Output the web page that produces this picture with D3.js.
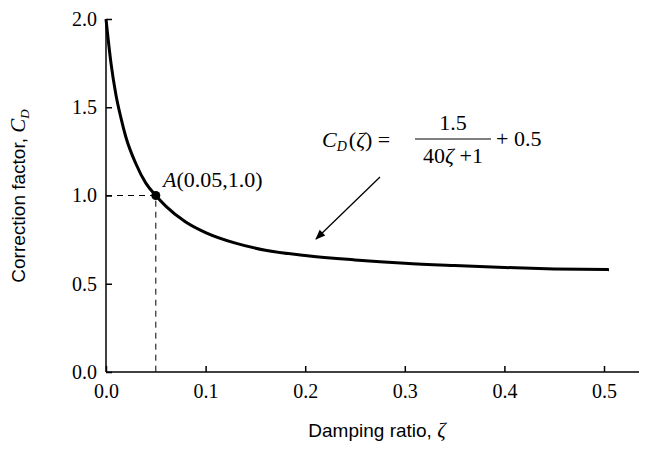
<!DOCTYPE html>
<html><head><meta charset="utf-8">
<script src="https://cdn.jsdelivr.net/npm/d3@7"></script>
<style>body{margin:0;background:#fff}</style>
</head><body>
<svg id="c" width="645" height="457"></svg>
<script>
// curve points (zeta, C_D)
var zeta = [0, 0.005, 0.01, 0.015, 0.02, 0.03, 0.04, 0.05, 0.06, 0.08, 0.1, 0.13, 0.16, 0.2, 0.25, 0.3, 0.35, 0.4, 0.45, 0.505];
var cd   = [2.0, 1.75, 1.57, 1.44, 1.33, 1.18, 1.07, 1.0, 0.94, 0.85, 0.79, 0.73, 0.69, 0.66, 0.635, 0.616, 0.603, 0.592, 0.584, 0.58];
var xTicks = [0, 0.1, 0.2, 0.3, 0.4, 0.5];
var yTicks = [0, 0.5, 1.0, 1.5, 2.0];
var pointA = [0.05, 1.0];

var svg = d3.select("#c");
var x = d3.scaleLinear().domain([0, 0.5]).range([106, 604]);
var y = d3.scaleLinear().domain([0, 2]).range([372, 19]);
var serif = "'Liberation Serif', 'Times New Roman', serif";
var sans = "'Liberation Sans', Arial, sans-serif";

var xa = svg.append("g").attr("transform", "translate(0,372)")
  .call(d3.axisBottom(x).tickValues(xTicks).tickSize(-6).tickPadding(12).tickFormat(d3.format(".1f")));
xa.select(".domain").attr("d", "M106,0H639");
var ya = svg.append("g").attr("transform", "translate(106,0)")
  .call(d3.axisLeft(y).tickValues(yTicks).tickSize(-6).tickPadding(9).tickFormat(d3.format(".1f")));
ya.select(".domain").attr("d", "M0,372V19");
svg.selectAll(".tick text").attr("font-family", serif).attr("font-size", 20).attr("fill", "#000");
svg.selectAll(".domain, .tick line").attr("stroke", "#000").attr("stroke-width", 1.5);

// dashed guides
svg.append("path")
  .attr("d", "M106," + y(pointA[1]) + "H" + x(pointA[0]) + "V372")
  .attr("fill", "none").attr("stroke", "#000").attr("stroke-dasharray", "6,5");

var line = d3.line().x(function(d){ return x(d[0]); }).y(function(d){ return y(d[1]); }).curve(d3.curveMonotoneX);
svg.append("path").datum(d3.zip(zeta, cd)).attr("d", line)
  .attr("fill", "none").attr("stroke", "#000").attr("stroke-width", 3);

svg.append("circle").attr("cx", x(pointA[0])).attr("cy", y(pointA[1])).attr("r", 4.5);
var ta = svg.append("text").attr("x", 163).attr("y", 187)
  .attr("font-family", serif).attr("font-size", 22);
ta.append("tspan").attr("font-style", "italic").text("A");
ta.append("tspan").text("(0.05,1.0)");

// axis titles
svg.append("text").attr("x", 377).attr("y", 437).attr("text-anchor", "middle")
  .attr("font-family", sans).attr("font-size", 19)
  .html("Damping ratio, <tspan font-family=\"" + serif + "\" font-style=\"italic\" font-size=\"21\">ζ</tspan>");
var yt = svg.append("text").attr("transform", "translate(25,196) rotate(-90)").attr("text-anchor", "middle")
  .attr("font-family", sans).attr("font-size", 19);
yt.append("tspan").text("Correction factor, ");
yt.append("tspan").attr("font-family", serif).attr("font-style", "italic").attr("font-size", 21).text("C");
yt.append("tspan").attr("font-family", serif).attr("font-style", "italic").attr("font-size", 13).attr("dy", 4).text("D");

// formula
var f = svg.append("g").attr("font-family", serif).attr("font-size", 22);
var t1 = f.append("text").attr("x", 322).attr("y", 147);
t1.append("tspan").attr("font-style", "italic").text("C");
t1.append("tspan").attr("font-style", "italic").attr("font-size", 14).attr("dy", 4).text("D");
t1.append("tspan").attr("dy", -4).attr("dx", 2).text("(");
t1.append("tspan").attr("font-style", "italic").text("ζ");
t1.append("tspan").text(") =");
f.append("text").attr("x", 453).attr("y", 130).attr("text-anchor", "middle").text("1.5");
f.append("line").attr("x1", 415).attr("x2", 491).attr("y1", 139).attr("y2", 139).attr("stroke", "#000").attr("stroke-width", 1.2);
var t2 = f.append("text").attr("x", 453).attr("y", 163).attr("text-anchor", "middle");
t2.append("tspan").text("40");
t2.append("tspan").attr("font-style", "italic").text("ζ");
t2.append("tspan").text(" +1");
f.append("text").attr("x", 496).attr("y", 146).text("+ 0.5");

// arrow
svg.append("defs").append("marker").attr("id", "ah").attr("viewBox", "0 0 10 10")
  .attr("refX", 9).attr("refY", 5).attr("markerWidth", 9).attr("markerHeight", 9).attr("orient", "auto")
  .attr("markerUnits", "userSpaceOnUse").attr("markerWidth", 13).attr("markerHeight", 10)
  .append("path").attr("d", "M0,1L10,5L0,9z");
svg.append("line").attr("x1", 380).attr("y1", 177).attr("x2", 316).attr("y2", 239)
  .attr("stroke", "#000").attr("stroke-width", 1.3).attr("marker-end", "url(#ah)");
</script>
</body></html>
